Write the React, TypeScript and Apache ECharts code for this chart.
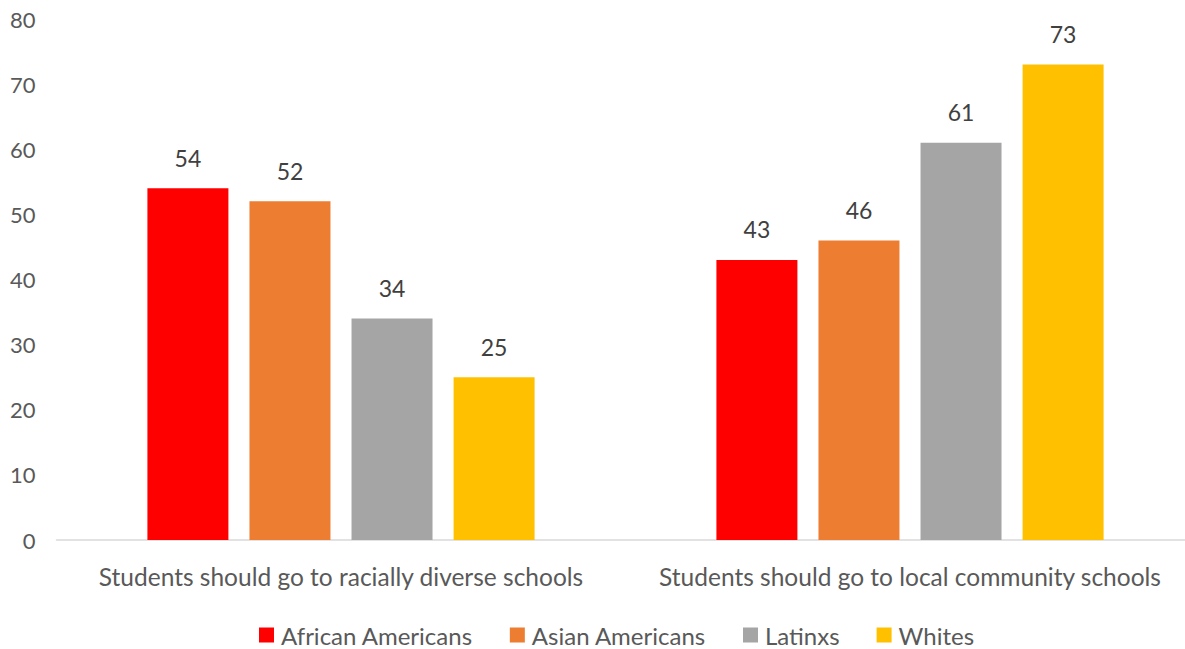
import React, { useEffect, useRef } from "react";
import * as echarts from "echarts";

const categories = [
  "Students should go to racially diverse schools",
  "Students should go to local community schools",
];
const seriesNames = ["African Americans", "Asian Americans", "Latinxs", "Whites"];
const africanAmericans = [54, 43];
const asianAmericans = [52, 46];
const latinxs = [34, 61];
const whites = [25, 73];
const colors = ["#FF0000", "#ED7D31", "#A5A5A5", "#FFC000"];

export default function App() {
  const ref = useRef<HTMLDivElement>(null);
  useEffect(() => {
    if (!ref.current) return;
    const chart = echarts.init(ref.current, undefined, { renderer: "svg" });
    const font = "Lato, 'Open Sans', sans-serif";
    const values = [africanAmericans, asianAmericans, latinxs, whites];
    chart.setOption({
      animation: false,
      textStyle: { fontFamily: font },
      grid: { left: 56.5, right: 5.5, top: 19, bottom: 109, containLabel: false },
      legend: {
        bottom: -3,
        left: 254,
        itemWidth: 15,
        itemHeight: 15,
        itemGap: 37,
        icon: "rect",
        textStyle: { fontSize: 24, color: "#595959", fontFamily: font, padding: [0, 0, 0, 2] },
        data: seriesNames,
      },
      xAxis: {
        type: "category",
        data: categories,
        axisLine: { lineStyle: { color: "#D9D9D9", width: 1.5 } },
        axisTick: { show: false },
        axisLabel: {
          interval: 0,
          hideOverlap: false,
          fontSize: 24.5,
          color: "#595959",
          margin: 24,
          fontFamily: font,
        },
      },
      yAxis: {
        type: "value",
        min: 0,
        max: 80,
        interval: 10,
        axisLine: { show: false },
        axisTick: { show: false },
        splitLine: { show: false },
        axisLabel: { fontSize: 22, color: "#595959", margin: 21, fontFamily: font },
      },
      series: seriesNames.map((name, i) => ({
        name,
        type: "bar",
        data: values[i],
        barWidth: 81,
        barGap: "26%",
        itemStyle: { color: colors[i] },
        label: {
          show: true,
          position: "top",
          distance: 19,
          fontSize: 23,
          color: "#404040",
          fontFamily: font,
        },
      })),
    });
    return () => chart.dispose();
  }, []);
  return (
    <div
      style={{ position: "absolute", left: 0, top: 0, width: 1185, height: 649, overflow: "hidden", background: "#fff" }}
    >
      <div ref={ref} style={{ width: 1200, height: 649 }} />
    </div>
  );
}
